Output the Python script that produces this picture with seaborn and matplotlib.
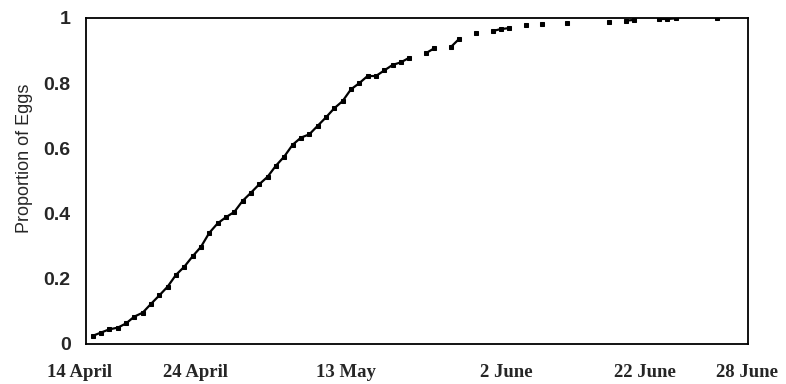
import numpy as np
import pandas as pd
import matplotlib
matplotlib.use("Agg")
import matplotlib.pyplot as plt
import seaborn as sns

# Day index (days after 14 April) and cumulative proportion of eggs
days = [0, 1, 2, 3, 4, 5, 6, 7, 8, 9, 10, 11, 12, 13, 14, 15, 16, 17, 18, 19,
        20, 21, 22, 23, 24, 25, 26, 27, 28, 29, 30, 31, 32, 33, 34, 35, 36, 37, 38,
        40, 41, 43, 44, 46, 48, 49, 50, 52, 54, 57, 62, 64, 65, 68, 69, 70, 75]
proportion = [0.025, 0.035, 0.045, 0.050, 0.063, 0.084, 0.096, 0.123, 0.149, 0.176,
              0.212, 0.237, 0.269, 0.298, 0.341, 0.370, 0.389, 0.405, 0.439, 0.464,
              0.490, 0.513, 0.547, 0.575, 0.611, 0.633, 0.643, 0.669, 0.695, 0.723,
              0.745, 0.781, 0.800, 0.822, 0.822, 0.839, 0.856, 0.864, 0.878,
              0.892, 0.907, 0.911, 0.936, 0.953, 0.960, 0.966, 0.969, 0.977, 0.982,
              0.985, 0.988, 0.992, 0.994, 0.997, 0.997, 0.999, 1.0]

tick_positions = [9.9, 29.8, 49.7, 69.3]
label_texts = ["14 April", "24 April", "13 May", "2 June", "22 June", "28 June"]
label_positions = [-1.6, 12.3, 30.4, 49.6, 66.3, 78.5]
y_ticks = [0, 0.2, 0.4, 0.6, 0.8, 1]
y_tick_labels = ["0", "0.2", "0.4", "0.6", "0.8", "1"]

# consecutive days form connected segments
seg = np.concatenate([[0], np.cumsum(np.diff(days) > 1)])
df = pd.DataFrame({"day": days, "prop": proportion, "seg": seg})

sns.set_style("white")
plt.rcParams["font.family"] = ["Liberation Sans", "DejaVu Sans"]

fig = plt.figure(figsize=(7.86, 3.84), dpi=100)
ax = fig.add_axes([86 / 786, 1 - 344 / 384, (748 - 86) / 786, (344 - 18) / 384])

sns.lineplot(data=df, x="day", y="prop", units="seg", estimator=None,
             color="black", linewidth=1.6, marker="s", markersize=3.4,
             markeredgecolor="black", ax=ax, legend=False)

ax.set_xlim(-0.8, 78.67)
ax.set_ylim(0, 1)
for s in ax.spines.values():
    s.set_color("black")
    s.set_linewidth(1.3)
    s.set_visible(True)

ax.set_yticks(y_ticks)
ax.set_yticklabels(y_tick_labels, fontsize=14, fontweight="bold")
ax.tick_params(axis="y", length=0, pad=11)
ax.set_xticks(tick_positions)
ax.set_xticklabels([])
ax.tick_params(axis="x", direction="inout", length=7, width=1.3, color="black")

for txt, pos in zip(label_texts, label_positions):
    ax.annotate(txt, xy=(pos, 0), xycoords=("data", "axes fraction"),
                xytext=(0, -14.5), textcoords="offset points",
                ha="center", va="top", fontsize=13.5, fontweight="bold",
                family=["Liberation Serif"], annotation_clip=False)

ax.set_xlabel("")
ax.set_ylabel("Proportion of Eggs", fontsize=13)
ax.yaxis.set_label_coords(-0.08, 0.57)

fig.savefig("out.png", dpi=100)
